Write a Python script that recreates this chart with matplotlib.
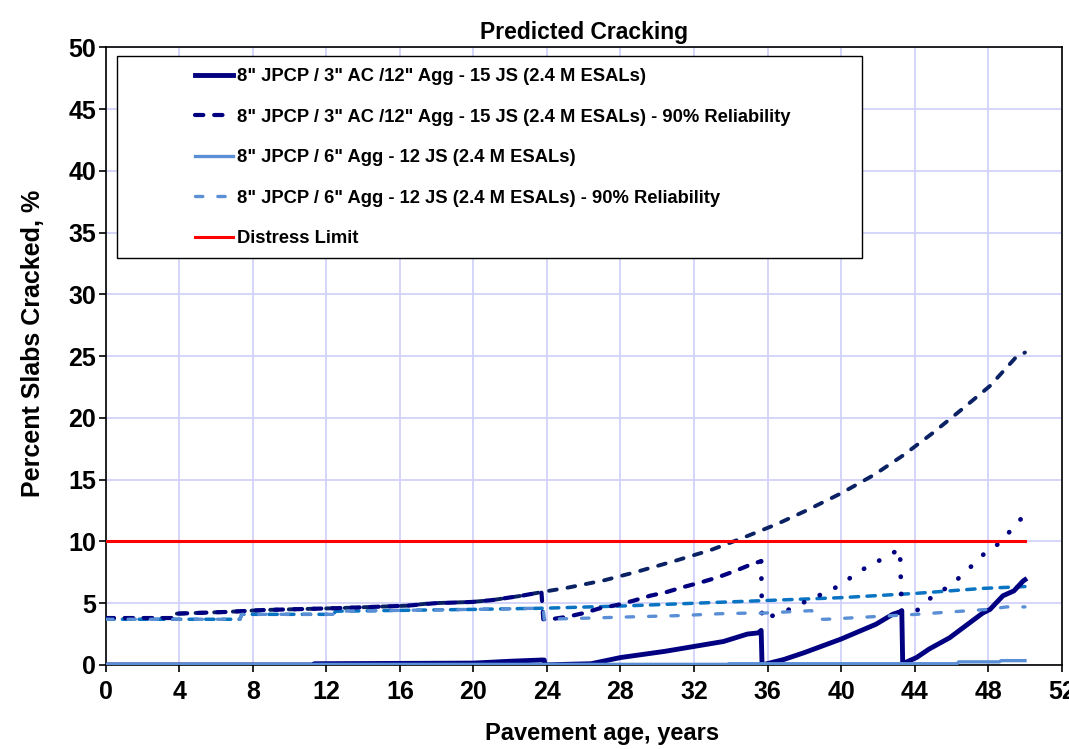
import matplotlib
matplotlib.use("Agg")
import matplotlib.pyplot as plt
from matplotlib.patches import Rectangle

plt.rcParams['font.family'] = ['Liberation Sans', 'DejaVu Sans']

# --- 8" JPCP / 3" AC / 12" Agg - 15 JS : mean prediction with rehab resets
jpcp_ac_years = [0, 11.3, 11.35, 20, 22, 23.7, 23.85, 23.9, 25, 26.4, 28, 30.4, 32, 33.6,
                 34.9, 35.5, 35.65, 35.7, 36.9, 38, 40, 41.9, 42.8, 43.2, 43.3, 43.35,
                 44.1, 44.8, 45.9, 46.8, 47.7, 48.1, 48.8, 49.4, 49.9, 50]
jpcp_ac_crack = [0, 0, 0.1, 0.15, 0.3, 0.4, 0.4, 0.0, 0.05, 0.1, 0.6, 1.1, 1.5, 1.9,
                 2.5, 2.6, 2.8, 0.0, 0.45, 1.0, 2.1, 3.3, 4.1, 4.3, 4.4, 0.1,
                 0.6, 1.3, 2.2, 3.2, 4.2, 4.5, 5.6, 6.0, 6.8, 6.9]

# --- same design, 90% reliability, with rehab resets
jpcp_ac_rel_years = [0, 3.7, 3.75, 6.7, 8.6, 12.6, 16.4, 17.9, 19.9, 21, 22.6, 23.7, 23.8,
                     24.2, 25.1, 26, 26.9, 27.8, 28.7, 29.6, 30.5, 31.4, 32.4, 33.3, 34.3,
                     35.2, 35.65, 35.7, 36.7, 37.5, 38.4, 39.25, 40.1, 40.8, 41.6, 42.4,
                     43.2, 43.3, 44.05, 44.75, 45.5, 46.3, 46.96, 47.6, 48.4, 49.06, 49.66, 50]
jpcp_ac_rel_crack = [3.8, 3.8, 4.15, 4.3, 4.45, 4.6, 4.8, 5.0, 5.1, 5.25, 5.6, 5.9, 3.7,
                     3.7, 3.9, 4.2, 4.6, 4.85, 5.2, 5.6, 5.9, 6.3, 6.7, 7.1, 7.65,
                     8.2, 8.4, 3.7, 4.2, 4.7, 5.4, 5.9, 6.6, 7.4, 8.1, 8.7,
                     9.4, 4.3, 4.3, 5.3, 6.0, 6.9, 7.8, 8.8, 9.6, 10.6, 11.7, 12.0]

# --- same design, 90% reliability, no rehab
jpcp_ac_norehab_years = [0, 3.7, 3.75, 6.66, 8.6, 12.6, 16.4, 17.7, 19.9, 21, 22.6, 23.7,
                         25.1, 27.1, 28.9, 30.9, 32.9, 34.5, 36.5, 38.1, 40, 41.8, 43.4,
                         45, 46.65, 48.1, 49.5, 50]
jpcp_ac_norehab_crack = [3.8, 3.8, 4.15, 4.3, 4.45, 4.6, 4.8, 5.0, 5.1, 5.25, 5.6, 5.9,
                         6.25, 6.85, 7.55, 8.4, 9.3, 10.2, 11.4, 12.5, 13.9, 15.4, 17.0,
                         18.8, 20.8, 22.6, 24.9, 25.3]

# --- 8" JPCP / 6" Agg - 12 JS : mean prediction
jpcp_agg_years = [0, 33.8, 33.9, 46.3, 46.4, 48.6, 48.7, 50]
jpcp_agg_crack = [0.05, 0.05, 0.1, 0.1, 0.25, 0.25, 0.35, 0.35]

# --- same design, 90% reliability, with rehab resets
jpcp_agg_rel_years = [0, 7.3, 7.4, 12.4, 12.5, 20, 23.8, 23.85, 26.4, 28.7, 31.3, 33.4, 35,
                      35.8, 38.4, 38.7, 39.2, 42.85, 44.1, 46, 48, 49, 50]
jpcp_agg_rel_crack = [3.7, 3.7, 4.1, 4.1, 4.35, 4.5, 4.6, 3.7, 3.8, 3.9, 4.0, 4.15, 4.2,
                      4.2, 4.4, 3.7, 3.7, 4.0, 4.1, 4.3, 4.5, 4.7, 4.7]

# --- same design, 90% reliability, no rehab
jpcp_agg_norehab_years = [0, 7.3, 7.4, 12.4, 12.5, 20, 24, 28.6, 33.8, 35.6, 40, 44.1, 47.7, 50]
jpcp_agg_norehab_crack = [3.7, 3.7, 4.1, 4.1, 4.35, 4.5, 4.6, 4.8, 5.1, 5.2, 5.45, 5.8, 6.2, 6.35]

limit_years = [0, 50]
limit_value = [10, 10]

labels = ['8" JPCP / 3" AC /12" Agg - 15 JS (2.4 M ESALs)',
          '8" JPCP / 3" AC /12" Agg - 15 JS (2.4 M ESALs) - 90% Reliability',
          '8" JPCP / 6" Agg - 12 JS (2.4 M ESALs)',
          '8" JPCP / 6" Agg - 12 JS (2.4 M ESALs) - 90% Reliability',
          'Distress Limit']

x_ticks = list(range(0, 53, 4))
y_ticks = list(range(0, 51, 5))

NAVY = '#000080'
DARK_NAVY = '#0a2263'
LIGHT_BLUE = '#5a8fd6'
MID_BLUE = '#0a74c2'
RED = '#ff0000'
GRID = '#d2d2fa'

fig = plt.figure(figsize=(10.69, 7.49), dpi=100)
ax = fig.add_axes([0.0989, 0.1122, 0.8943, 0.8244])

# continuous 90% reliability curves (no rehab)
ax.plot(jpcp_ac_norehab_years, jpcp_ac_norehab_crack, color=DARK_NAVY, lw=2.8,
        linestyle=(0, (2.0, 2.8)), dash_capstyle='round', zorder=3)
ax.plot(jpcp_agg_norehab_years, jpcp_agg_norehab_crack, color=MID_BLUE, lw=2.5,
        linestyle=(0, (2.4, 2.4)), dash_capstyle='round', zorder=3)

# design 1
h1, = ax.plot(jpcp_ac_years, jpcp_ac_crack, color=NAVY, lw=3.5, zorder=4,
              solid_joinstyle='round', label=labels[0])
split = jpcp_ac_rel_years.index(35.65) + 1
h2, = ax.plot(jpcp_ac_rel_years[:split], jpcp_ac_rel_crack[:split], color=NAVY, lw=3.0,
              linestyle=(0, (2.0, 2.6)), dash_capstyle='round', zorder=4, label=labels[1])
ax.plot(jpcp_ac_rel_years[split - 1:], jpcp_ac_rel_crack[split - 1:], color=NAVY, lw=3.4,
        linestyle=(0, (0.05, 3.6)), dash_capstyle='round', zorder=4)

# design 2
h3, = ax.plot(jpcp_agg_years, jpcp_agg_crack, color=LIGHT_BLUE, lw=2.4, zorder=5,
              label=labels[2])
h4, = ax.plot(jpcp_agg_rel_years, jpcp_agg_rel_crack, color=LIGHT_BLUE, lw=2.4,
              linestyle=(0, (2.2, 4.5)), dash_capstyle='round', zorder=5, label=labels[3])

h5, = ax.plot(limit_years, limit_value, color=RED, lw=2.2, zorder=4, label=labels[4])

ax.set_xlim(0, 52)
ax.set_ylim(0, 50)
ax.set_xticks(x_ticks)
ax.set_yticks(y_ticks)
ax.grid(True, color=GRID, lw=1.3, zorder=0)
ax.set_axisbelow(True)
for s in ax.spines.values():
    s.set_color('black')
    s.set_linewidth(1.2)
ax.tick_params(direction='out', length=5, width=1.2, labelsize=18)
ax.tick_params(axis='x', pad=6)
ax.tick_params(axis='y', pad=2)
for t in ax.get_xticklabels() + ax.get_yticklabels():
    t.set_fontweight('bold')

ax.set_title('Predicted Cracking', fontsize=16.5, fontweight='bold', pad=6)
ax.set_xlabel('Pavement age, years', fontsize=17, fontweight='bold')
ax.set_ylabel('Percent Slabs Cracked, %', fontsize=18, fontweight='bold')
ax.xaxis.set_label_coords(0.519, -0.092)
ax.yaxis.set_label_coords(-0.064, 0.52)

# legend box
ax.add_patch(Rectangle((0.0118, 0.659), 0.7793, 0.3272, transform=ax.transAxes,
                       facecolor='white', edgecolor='black', lw=1.0, zorder=6))
leg = ax.legend(handles=[h1, h2, h3, h4, h5], loc='upper left',
                bbox_to_anchor=(0.093, 0.9665), frameon=False,
                prop={'weight': 'bold', 'size': 13.2}, handlelength=2.1,
                handletextpad=0.2, labelspacing=1.28, borderpad=0, borderaxespad=0)
leg.set_zorder(7)

fig.savefig('out.png', dpi=100)
